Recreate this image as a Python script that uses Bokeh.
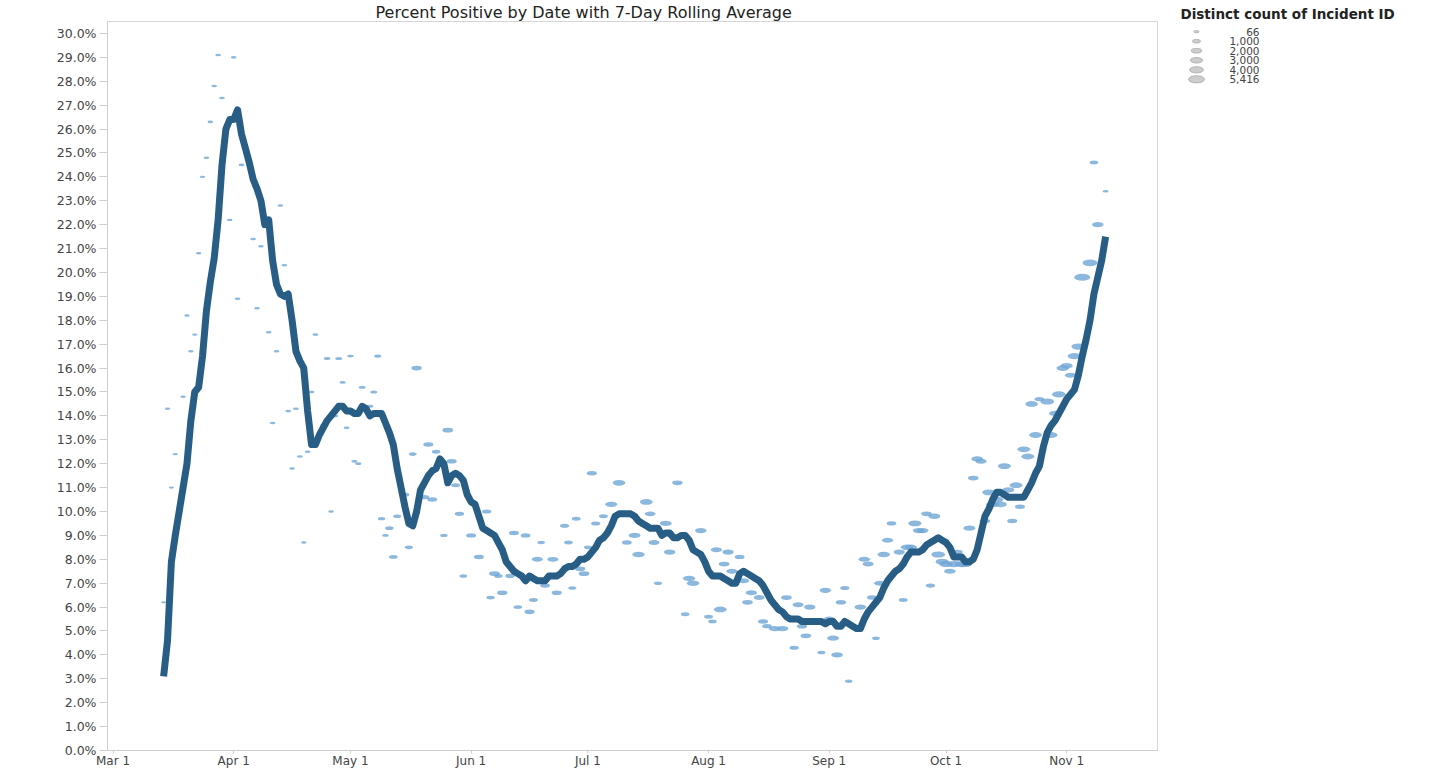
import pandas as pd
from bokeh.plotting import figure
from bokeh.layouts import row
from bokeh.models import (Range1d, FixedTicker, PrintfTickFormatter,
                          DatetimeTickFormatter, ColumnDataSource)
from bokeh.core.properties import value
from bokeh.embed import file_html
from bokeh.resources import INLINE

# ---------------- data ----------------
title_text = "Percent Positive by Date with 7-Day Rolling Average"
legend_title = "Distinct count of Incident ID"

line_start = "2020-03-14"
line_end = "2020-11-11"
rolling_avg = [
    3.1, 4.6, 7.9, 9.0, 10.0, 11.0, 12.0, 13.8, 15.0, 15.2,
    16.5, 18.4, 19.6, 20.6, 22.2, 24.5, 26.0, 26.4, 26.4, 26.8,
    25.8, 25.2, 24.6, 23.9, 23.5, 23.0, 22.0, 22.2, 20.5, 19.5,
    19.1, 19.0, 19.1, 18.0, 16.7, 16.3, 16.0, 14.2, 12.8, 12.8,
    13.2, 13.5, 13.8, 14.0, 14.2, 14.4, 14.4, 14.2, 14.2, 14.1,
    14.1, 14.4, 14.3, 14.0, 14.1, 14.1, 14.1, 13.7, 13.3, 12.8,
    11.8, 11.0, 10.2, 9.5, 9.4, 10.0, 10.9, 11.2, 11.5, 11.7,
    11.8, 12.2, 12.0, 11.2, 11.5, 11.6, 11.5, 11.3, 10.7, 10.4,
    10.3, 9.8, 9.3, 9.2, 9.1, 9.0, 8.7, 8.4, 7.9, 7.7,
    7.5, 7.4, 7.3, 7.1, 7.3, 7.2, 7.1, 7.1, 7.1, 7.3,
    7.3, 7.3, 7.4, 7.6, 7.7, 7.7, 7.8, 8.0, 8.0, 8.1,
    8.3, 8.5, 8.8, 8.9, 9.1, 9.4, 9.8, 9.9, 9.9, 9.9,
    9.9, 9.8, 9.6, 9.5, 9.4, 9.3, 9.3, 9.3, 9.0, 9.1,
    9.1, 8.9, 8.9, 9.0, 9.0, 8.8, 8.4, 8.3, 8.2, 7.9,
    7.5, 7.3, 7.3, 7.3, 7.2, 7.1, 7.0, 7.0, 7.4, 7.5,
    7.4, 7.3, 7.2, 7.1, 6.9, 6.6, 6.3, 6.1, 5.9, 5.8,
    5.6, 5.5, 5.5, 5.5, 5.4, 5.4, 5.4, 5.4, 5.4, 5.4,
    5.3, 5.4, 5.4, 5.2, 5.2, 5.4, 5.3, 5.2, 5.1, 5.1,
    5.5, 5.8, 6.0, 6.2, 6.4, 6.8, 7.1, 7.3, 7.5, 7.6,
    7.8, 8.1, 8.3, 8.3, 8.3, 8.4, 8.6, 8.7, 8.8, 8.9,
    8.8, 8.7, 8.5, 8.1, 8.1, 8.1, 7.9, 7.9, 8.0, 8.4,
    9.1, 9.8, 10.1, 10.5, 10.8, 10.8, 10.7, 10.6, 10.6, 10.6,
    10.6, 10.6, 10.9, 11.2, 11.6, 11.9, 12.7, 13.3, 13.6, 13.8,
    14.1, 14.4, 14.7, 14.9, 15.1, 15.7, 16.5, 17.2, 18.0, 19.1,
    19.8, 20.5, 21.5,
]

point_dates = [
    "2020-03-14", "2020-03-15", "2020-03-16", "2020-03-17", "2020-03-19", "2020-03-20",
    "2020-03-21", "2020-03-22", "2020-03-23", "2020-03-24", "2020-03-25", "2020-03-26",
    "2020-03-27", "2020-03-28", "2020-03-29", "2020-03-31",
    "2020-04-01", "2020-04-02", "2020-04-03", "2020-04-06", "2020-04-07", "2020-04-08",
    "2020-04-10", "2020-04-11", "2020-04-12", "2020-04-13", "2020-04-14", "2020-04-15",
    "2020-04-16", "2020-04-17", "2020-04-18", "2020-04-19", "2020-04-20", "2020-04-21",
    "2020-04-22", "2020-04-24", "2020-04-25", "2020-04-26", "2020-04-27", "2020-04-28",
    "2020-04-29", "2020-04-30",
    "2020-05-01", "2020-05-02", "2020-05-03", "2020-05-04", "2020-05-06", "2020-05-07",
    "2020-05-08", "2020-05-09", "2020-05-10", "2020-05-11", "2020-05-12", "2020-05-13",
    "2020-05-15", "2020-05-16", "2020-05-17", "2020-05-18", "2020-05-20", "2020-05-21",
    "2020-05-22", "2020-05-23", "2020-05-25", "2020-05-26", "2020-05-27", "2020-05-28",
    "2020-05-29", "2020-05-30",
    "2020-06-01", "2020-06-03", "2020-06-05", "2020-06-06", "2020-06-07", "2020-06-08",
    "2020-06-09", "2020-06-11", "2020-06-12", "2020-06-13", "2020-06-15", "2020-06-16",
    "2020-06-17", "2020-06-18", "2020-06-19", "2020-06-20", "2020-06-22", "2020-06-23",
    "2020-06-25", "2020-06-26", "2020-06-27", "2020-06-28", "2020-06-29", "2020-06-30",
    "2020-07-01", "2020-07-02", "2020-07-03", "2020-07-05", "2020-07-07", "2020-07-09",
    "2020-07-11", "2020-07-13", "2020-07-14", "2020-07-16", "2020-07-17", "2020-07-18",
    "2020-07-19", "2020-07-21", "2020-07-22", "2020-07-24", "2020-07-26", "2020-07-27",
    "2020-07-28", "2020-07-30",
    "2020-08-01", "2020-08-02", "2020-08-03", "2020-08-04", "2020-08-05", "2020-08-06",
    "2020-08-07", "2020-08-09", "2020-08-10", "2020-08-11", "2020-08-12", "2020-08-14",
    "2020-08-15", "2020-08-16", "2020-08-18", "2020-08-20", "2020-08-21", "2020-08-23",
    "2020-08-24", "2020-08-25", "2020-08-26", "2020-08-27", "2020-08-30", "2020-08-31",
    "2020-09-01", "2020-09-02", "2020-09-03", "2020-09-04", "2020-09-05", "2020-09-06",
    "2020-09-09", "2020-09-10", "2020-09-11", "2020-09-12", "2020-09-13", "2020-09-14",
    "2020-09-15", "2020-09-16", "2020-09-17", "2020-09-19", "2020-09-20", "2020-09-21",
    "2020-09-22", "2020-09-23", "2020-09-24", "2020-09-25", "2020-09-26", "2020-09-27",
    "2020-09-28", "2020-09-29", "2020-09-30",
    "2020-10-01", "2020-10-02", "2020-10-03", "2020-10-04", "2020-10-05", "2020-10-06",
    "2020-10-07", "2020-10-08", "2020-10-09", "2020-10-10", "2020-10-11", "2020-10-12",
    "2020-10-13", "2020-10-14", "2020-10-15", "2020-10-16", "2020-10-17", "2020-10-18",
    "2020-10-19", "2020-10-20", "2020-10-21", "2020-10-22", "2020-10-23", "2020-10-24",
    "2020-10-25", "2020-10-27", "2020-10-28", "2020-10-29", "2020-10-30", "2020-10-31",
    "2020-11-01", "2020-11-02", "2020-11-03", "2020-11-04", "2020-11-05", "2020-11-07",
    "2020-11-08", "2020-11-09", "2020-11-11",
]

point_pct = [
    6.2, 14.3, 11.0, 12.4, 14.8, 18.2, 16.7, 17.4, 20.8, 24.0, 24.8, 26.3, 27.8, 29.1, 27.3, 22.2,
    29.0, 18.9, 24.5, 21.4, 18.5, 21.1, 17.5, 13.7, 16.7, 22.8, 20.3, 14.2, 11.8, 14.3, 12.3, 8.7,
    12.5, 15.0, 17.4, 13.6, 16.4, 10.0, 14.0, 16.4, 15.4, 13.5,
    16.5, 12.1, 12.0, 15.2, 14.4, 15.0, 16.5, 9.7, 9.0, 9.3, 8.1, 9.8, 10.7, 8.5, 12.4, 16.0,
    10.6, 12.8, 10.5, 12.5, 9.0, 13.4, 12.1, 11.1, 9.9, 7.3,
    9.0, 8.1, 10.0, 6.4, 7.4, 7.3, 6.6, 7.3, 9.1, 6.0, 9.0, 5.8, 6.3, 8.0, 8.7, 6.9, 8.0, 6.6,
    9.4, 8.7, 6.8, 9.7, 7.6, 7.4,
    8.5, 11.6, 9.5, 9.8, 10.3, 11.2, 8.7, 9.0, 8.2, 10.4, 9.9, 8.7, 7.0, 9.5, 8.3, 11.2, 5.7, 7.2,
    7.0, 9.2,
    5.6, 5.4, 8.4, 5.9, 7.8, 8.3, 7.5, 8.1, 7.1, 6.2, 6.6, 6.4, 5.4, 5.2, 5.1, 5.1, 6.4, 4.3,
    6.1, 5.2, 4.8, 6.0, 4.1, 6.7,
    5.5, 4.7, 4.0, 6.2, 6.8, 2.9, 6.0, 8.0, 7.8, 6.4, 4.7, 7.0, 8.2, 8.8, 9.5, 8.3, 6.3, 8.5,
    8.5, 9.5, 9.2, 9.2, 9.9, 6.9, 9.8, 8.2, 7.9,
    7.8, 7.5, 7.8, 8.3, 7.8, 7.8, 9.3, 11.4, 12.2, 12.1, 9.6, 10.8, 10.3, 10.5, 10.3, 11.9,
    10.9, 9.6, 11.1, 10.2, 12.6, 12.3, 14.5, 13.2, 14.7, 14.6, 13.2, 14.1, 14.9, 16.0,
    16.1, 15.7, 16.5, 16.9, 19.8, 20.4, 24.6, 22.0, 23.4,
]

point_count = [
    66, 120, 110, 140, 160, 150, 180, 170, 200, 180, 210, 220, 190, 230, 240, 160,
    250, 230, 260, 250, 240, 220, 260, 200, 220, 240, 260, 280, 190, 300, 260, 150,
    280, 320, 300, 400, 500, 220, 450, 600, 350, 330,
    450, 350, 380, 600, 500, 650, 700, 800, 450, 1100, 1200, 1000, 1300, 1000, 900, 2000,
    1500, 1800, 1700, 1200, 800, 2100, 1900, 1300, 1600, 900,
    1700, 1800, 1500, 1100, 2300, 1200, 2000, 1600, 1800, 1200, 1700, 1900, 1300, 2200, 800, 1700,
    2100, 1900, 1400, 1200, 1000, 1300, 2000, 2100,
    1000, 1800, 1400, 1300, 2800, 3200, 1700, 2700, 3000, 3300, 2200, 2300, 1000, 2700, 2600,
    2000, 1200, 3000, 3000, 2500,
    1300, 1100, 2400, 3300, 2200, 2500, 2300, 1700, 2400, 2100, 2500, 2200, 1800, 1600, 2700,
    2600, 2100, 1500, 2300, 1900, 2100, 2500, 1000, 2500,
    2300, 2600, 2600, 1900, 1500, 800, 2700, 2500, 2300, 1800, 900, 2400, 3000, 2300, 1600,
    2400, 1300, 3200, 3000, 3400, 2700, 2500, 2000, 1500, 2800, 3800, 3500,
    3600, 2600, 3800, 1800, 3900, 3500, 2700, 2100, 2600, 2400, 2200, 3400, 3300, 3600, 3300,
    3400, 2800, 1800, 3300, 1800, 3200, 3400, 3200, 3300, 1600, 3800, 3400, 2700, 3900, 3200,
    3000, 2400, 3700, 3900, 5416, 4600, 1200, 2500, 300,
]

legend_counts = [66, 1000, 2000, 3000, 4000, 5416]
month_ticks = ["2020-03-01", "2020-04-01", "2020-05-01", "2020-06-01", "2020-07-01",
               "2020-08-01", "2020-09-01", "2020-10-01", "2020-11-01"]
pct_ticks = list(range(0, 31))

# ---------------- styling ----------------
FONT = "DejaVu Sans"
LINE_COLOR = "#285e86"
POINT_COLOR = "#6fa6d6"
AXIS_GRAY = "#cfcfcf"
TEXT_GRAY = "#444444"

cmin, cmax = min(legend_counts), max(legend_counts)
def marker_w(c):
    # marker area grows linearly from the smallest to the largest count
    return (25 + (256 - 25) * (c - cmin) / (cmax - cmin)) ** 0.5

# ---------------- main chart ----------------
line_src = ColumnDataSource(dict(
    date=pd.date_range(line_start, line_end, freq="D"),
    avg=rolling_avg,
))
pts_w = [marker_w(c) for c in point_count]
pt_src = ColumnDataSource(dict(
    date=pd.to_datetime(point_dates),
    pct=point_pct,
    w=pts_w,
    h=[w * 0.45 for w in pts_w],
))

W_MAIN, H = 1168, 770
p = figure(width=W_MAIN, height=H, x_axis_type="datetime",
           output_backend="svg", toolbar_location=None,
           x_range=Range1d(pd.Timestamp("2020-02-28 14:00"), pd.Timestamp("2020-11-24 08:00")),
           y_range=Range1d(0, 30.5),
           min_border_left=107, min_border_right=11, min_border_top=0, min_border_bottom=0)
p.title.text = title_text
p.title.text_font = FONT
p.title.text_font_size = "16px"
p.title.text_font_style = "normal"
p.title.text_color = "#222222"
p.title.align = "left"
p.title.offset = 268
p.title.standoff = 0

p.xgrid.visible = False
p.ygrid.visible = False
p.outline_line_color = "#d6d6d6"
p.background_fill_color = "white"
p.border_fill_color = "white"

p.ellipse(x="date", y="pct", width="w", height="h", width_units="screen",
          height_units="screen", source=pt_src, fill_color=POINT_COLOR,
          fill_alpha=0.8, line_color=None)
p.line(x="date", y="avg", source=line_src, line_color=LINE_COLOR,
       line_width=7, line_join="round")

ya = p.yaxis[0]
ya.ticker = FixedTicker(ticks=pct_ticks)
ya.formatter = PrintfTickFormatter(format="%.1f%%")
ya.axis_line_color = AXIS_GRAY
ya.major_tick_line_color = AXIS_GRAY
ya.minor_tick_line_color = None
ya.major_tick_out = 8
ya.major_tick_in = 0
ya.major_label_standoff = 3
ya.major_label_text_font = FONT
ya.major_label_text_font_size = "12.5px"
ya.major_label_text_color = TEXT_GRAY

xa = p.xaxis[0]
xa.ticker = FixedTicker(ticks=[pd.Timestamp(t).value // 10**6 for t in month_ticks])
fmt = "%b %-d"
xa.formatter = DatetimeTickFormatter(days=fmt, months=fmt, years=fmt, hours=fmt,
                                     hourmin=fmt, minutes=fmt, minsec=fmt, seconds=fmt,
                                     milliseconds=fmt, microseconds=fmt)
xa.axis_line_color = AXIS_GRAY
xa.major_tick_line_color = AXIS_GRAY
xa.minor_tick_line_color = None
xa.major_tick_out = 3
xa.major_tick_in = 0
xa.major_label_standoff = 0
xa.major_label_text_font = FONT
xa.major_label_text_font_size = "12px"
xa.major_label_text_color = TEXT_GRAY

# ---------------- size legend ----------------
# The row aligns this panel's frame with the chart's frame (20 px below the
# top), so its y range is given in page pixels from 20 downwards; the legend
# heading sits in the panel's own title strip above the frame.
W_LEG = 264
LEG_TOP = 20
lg = figure(width=W_LEG, height=H, output_backend="svg", toolbar_location=None,
            x_range=Range1d(0, W_LEG), y_range=Range1d(H, LEG_TOP),
            x_axis_type=None, y_axis_type=None,
            min_border_left=0, min_border_right=0, min_border_top=0, min_border_bottom=0)
lg.title.text = legend_title
lg.title.text_font = FONT
lg.title.text_font_size = "13.5px"
lg.title.text_font_style = "bold"
lg.title.text_color = "#222222"
lg.title.align = "left"
lg.title.offset = 12
lg.title.standoff = 0
lg.title.vertical_align = "bottom"
lg.xgrid.visible = False
lg.ygrid.visible = False
lg.outline_line_color = None

lx_marker, lx_label, ly0, ldy = 28, 91, 30.5, 9.8
leg_y = [ly0 + i * ldy for i in range(len(legend_counts))]
leg_w = [marker_w(c) for c in legend_counts]
lg.ellipse(x=[lx_marker] * len(legend_counts), y=leg_y, width=leg_w,
           height=[w * 0.45 for w in leg_w], width_units="screen", height_units="screen",
           fill_color="#cccccc", line_color="#a8a8a8", line_width=0.8)
lg.text(x=[lx_label] * len(legend_counts), y=leg_y,
        text=[f"{c:,}" for c in legend_counts], text_font=value(FONT),
        text_font_size=value("10.5px"), text_color=TEXT_GRAY,
        text_baseline="middle", text_align="right")

layout = row(p, lg)
open("out.html", "w").write(file_html(layout, INLINE))
